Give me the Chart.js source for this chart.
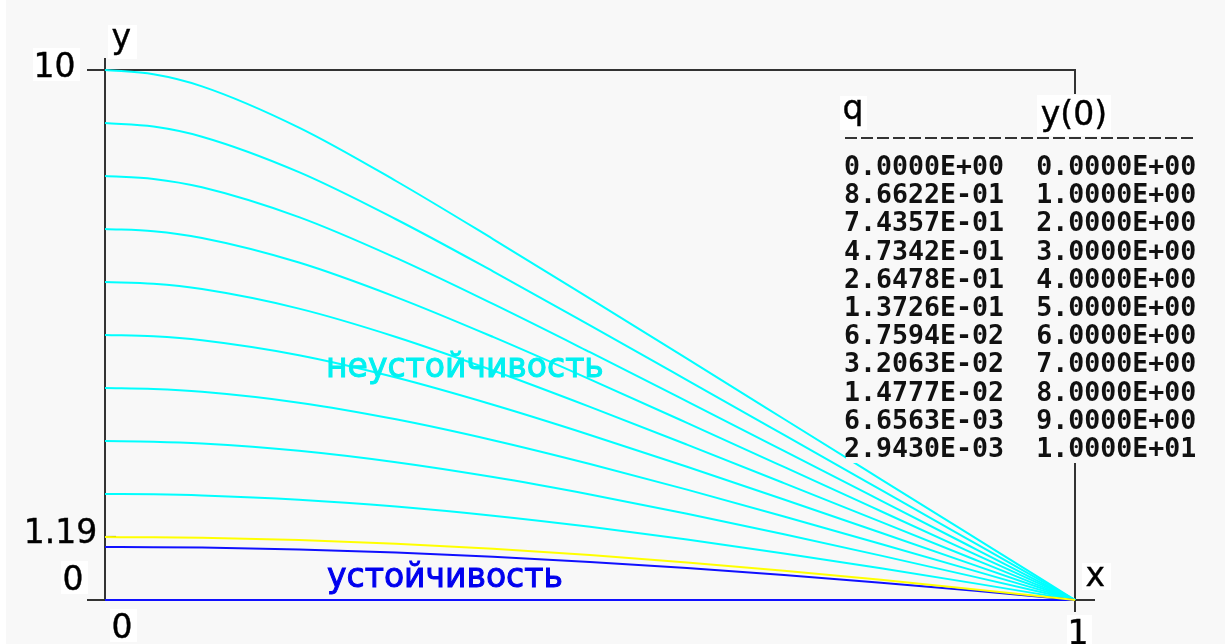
<!DOCTYPE html>
<html>
<head>
<meta charset="utf-8">
<script src="https://cdn.jsdelivr.net/npm/chart.js@4.4.1/dist/chart.umd.min.js"></script>
<style>
  html, body { margin: 0; padding: 0; background: #ffffff; }
  #wrap { width: 1225px; height: 644px; }
</style>
</head>
<body>
<div id="wrap"><canvas id="c" width="1225" height="644"></canvas></div>
<script>
// Sample abscissae shared by every curve
const xGrid = [0, 0.05, 0.1, 0.2, 0.3, 0.4, 0.5, 0.6, 0.7, 0.8, 0.9, 1];

// Solution profiles y(x), one per value of y(0)
const yFlat0 = [0, 0, 0, 0, 0, 0, 0, 0, 0, 0, 0, 0];
const yStart1 = [1, 0.99706, 0.98825, 0.95327, 0.89586, 0.81726, 0.71907, 0.60310, 0.47131, 0.32563, 0.16794, 0];
const yCritical = [1.18688, 1.18328, 1.17252, 1.12985, 1.06005, 0.96493, 0.84678, 0.70815, 0.55168, 0.37994, 0.19534, 0];
const yStart2 = [2, 1.99314, 1.97265, 1.89207, 1.76232, 1.58932, 1.37988, 1.14085, 0.87846, 0.59809, 0.30412, 0];
const yStart3 = [3, 2.98814, 2.95283, 2.81556, 2.59953, 2.31981, 1.99173, 1.62872, 1.24134, 0.83739, 0.42236, 0];
const yStart4 = [4, 3.98198, 3.92857, 3.72381, 3.40975, 3.01527, 2.56622, 2.08218, 1.57649, 1.05772, 0.53116, 0];
const yStart5 = [5, 4.97464, 4.89983, 4.61757, 4.19649, 3.68322, 3.11427, 2.51358, 1.89544, 1.26788, 0.63528, 0];
const yStart6 = [6, 5.96610, 5.86664, 5.49799, 4.96368, 4.33065, 3.64455, 2.93160, 2.20541, 1.47282, 0.73715, 0];
const yStart7 = [7, 6.95637, 6.82911, 6.36643, 5.71514, 4.96330, 4.16341, 3.34178, 2.51057, 1.67518, 0.83798, 0];
const yStart8 = [8, 7.94544, 7.78739, 7.22431, 6.45420, 5.58557, 4.67501, 3.74747, 2.81321, 1.87630, 0.93836, 0];
const yStart9 = [9, 8.93332, 8.74163, 8.07299, 7.18369, 6.20067, 5.18211, 4.15063, 3.11454, 2.07682, 1.03851, 0];
const yStart10 = [10, 9.92004, 9.69201, 8.91376, 7.90578, 6.81086, 5.68644, 4.55238, 3.41521, 2.27706, 1.13858, 0];

// Table: parameter q for each starting value y(0)
const qValues = [0, 0.86622, 0.74357, 0.47342, 0.26478, 0.13726, 0.067594, 0.032063, 0.014777, 0.0066563, 0.0029430];
const y0Values = [0, 1, 2, 3, 4, 5, 6, 7, 8, 9, 10];

// Axis ticks and labels
const xTicks = [0, 1];
const yTicks = [0, 1.19, 10];
const xTitle = 'x';
const yTitle = 'y';
const unstableLabel = 'неустойчивость';
const stableLabel = 'устойчивость';

const CYAN = '#00ffff', YELLOW = '#ffff00', BLUE = '#1010ff';
const BG = '#f8f8f8', AXIS = '#333333';
const LABEL_FONT = '33px "DejaVu Sans"';
const MONO_FONT = 'bold 26.6px "DejaVu Sans Mono"';

const toPts = vals => xGrid.map((x, i) => ({ x: x, y: vals[i] }));
const line = (vals, color) => ({
  data: toPts(vals), borderColor: color, borderWidth: 2,
  pointRadius: 0, fill: false, cubicInterpolationMode: 'monotone', clip: 6
});

const datasets = [
  line(yCritical, YELLOW),
  line(yStart1, BLUE),
  line(yFlat0, BLUE),
  line(yStart2, CYAN), line(yStart3, CYAN), line(yStart4, CYAN), line(yStart5, CYAN),
  line(yStart6, CYAN), line(yStart7, CYAN), line(yStart8, CYAN), line(yStart9, CYAN),
  line(yStart10, CYAN)
];

function fmtE(v) {
  const [m, e] = v.toExponential(4).split('e');
  const n = parseInt(e, 10);
  return m + 'E' + (n < 0 ? '-' : '+') + String(Math.abs(n)).padStart(2, '0');
}

// draw text so that its ink box is centred on (cx, cy)
function inkCentered(ctx, text, cx, cy, patch) {
  const m = ctx.measureText(text);
  const w = m.actualBoundingBoxLeft + m.actualBoundingBoxRight;
  const h = m.actualBoundingBoxAscent + m.actualBoundingBoxDescent;
  const bx = cx - w / 2 + m.actualBoundingBoxLeft;
  const by = cy - h / 2 + m.actualBoundingBoxAscent;
  if (patch) {
    ctx.save();
    ctx.fillStyle = '#ffffff';
    ctx.fillRect(Math.round(cx - w / 2 - 4), Math.round(cy - h / 2 - 4), Math.round(w + 10), Math.round(h + 8));
    ctx.restore();
  }
  ctx.fillText(text, bx, by);
  ctx.strokeText(text, bx, by);
}

// offsets of tick labels from their tick positions
const yLabelPos = { '10': [-50, -6], '1.19': [-44, -6], '0': [-32, -23] };
const xLabelPos = { '0': [17, 25], '1': [3, 31] };

const framePlugin = {
  id: 'frame',
  beforeDraw(chart) {
    const ctx = chart.ctx;
    ctx.save();
    ctx.fillStyle = '#ffffff';
    ctx.fillRect(0, 0, chart.width, chart.height);
    ctx.fillStyle = BG;
    ctx.fillRect(6, 0, chart.width - 6, chart.height);
    ctx.restore();
  },
  beforeDatasetsDraw(chart) {
    const { ctx, scales: { x, y } } = chart;
    const x0 = x.getPixelForValue(xTicks[0]), x1 = x.getPixelForValue(xTicks[xTicks.length - 1]);
    const yMin = yTicks[0], yMax = yTicks[yTicks.length - 1];
    const yb = y.getPixelForValue(yMin), yt = y.getPixelForValue(yMax);
    ctx.save();
    ctx.strokeStyle = AXIS;
    ctx.lineWidth = 2;
    const seg = (ax, ay, bx, by) => { ctx.beginPath(); ctx.moveTo(ax, ay); ctx.lineTo(bx, by); ctx.stroke(); };
    seg(x0, yt - 12, x0, yb + 1);          // y axis
    seg(x0 - 17, yb, x1 + 20, yb);         // x axis
    seg(x0, yt, x1, yt);                   // upper frame
    seg(x1, yt - 1, x1, yb + 12);          // right frame
    yTicks.forEach(v => {
      const py = y.getPixelForValue(v);
      if (v === yMin || v === yMax) seg(x0 - 18, py, x0, py);
      else seg(x0, py, x0 + 11, py);
    });
    ctx.restore();
  },
  afterDraw(chart) {
    const { ctx, scales: { x, y } } = chart;
    const x0 = x.getPixelForValue(0), yt = y.getPixelForValue(10);
    ctx.save();
    ctx.fillStyle = '#000000';
    ctx.strokeStyle = '#000000';
    ctx.lineWidth = 0.4;
    ctx.font = LABEL_FONT;

    // tick labels
    yTicks.forEach(v => {
      const key = String(v), off = yLabelPos[key];
      inkCentered(ctx, key, x0 + off[0], y.getPixelForValue(v) + off[1], key !== '1.19');
    });
    xTicks.forEach(v => {
      const key = String(v), off = xLabelPos[key];
      inkCentered(ctx, key, x.getPixelForValue(v) + off[0], y.getPixelForValue(0) + off[1], true);
    });
    // axis titles
    inkCentered(ctx, yTitle, x0 + 16, yt - 28, true);
    inkCentered(ctx, xTitle, x.getPixelForValue(1) + 20, y.getPixelForValue(0) - 24, true);

    // region labels
    ctx.font = '33px "DejaVu Sans"';
    ctx.lineWidth = 1;
    ctx.textBaseline = 'alphabetic';
    ctx.fillStyle = '#00f0f0'; ctx.strokeStyle = '#00f0f0';
    ctx.fillText(unstableLabel, 326, 377);
    ctx.strokeText(unstableLabel, 326, 377);
    ctx.fillStyle = '#0000ee'; ctx.strokeStyle = '#0000ee';
    ctx.fillText(stableLabel, 327, 587);
    ctx.strokeText(stableLabel, 327, 587);

    // table of q against y(0)
    const tx = 845, rowBase = 175, rowStep = 28.2;
    ctx.fillStyle = BG;
    ctx.fillRect(846, 94, 362, 369);
    ctx.fillStyle = '#000000'; ctx.strokeStyle = '#000000';
    ctx.lineWidth = 0.4;
    ctx.font = LABEL_FONT;
    inkCentered(ctx, 'q', 852, 113, true);
    inkCentered(ctx, 'y(0)', 1073, 115, true);

    // dashed rule under the header
    ctx.save();
    ctx.strokeStyle = '#333333';
    ctx.lineWidth = 2;
    ctx.setLineDash([12, 4]);
    ctx.beginPath(); ctx.moveTo(tx, 138); ctx.lineTo(1197, 138); ctx.stroke();
    ctx.restore();

    ctx.font = MONO_FONT;
    ctx.textBaseline = 'alphabetic';
    ctx.fillStyle = '#111111';
    y0Values.forEach((v, i) => {
      const row = fmtE(qValues[i]) + '  ' + fmtE(v);
      ctx.fillText(row, tx - 1, rowBase + i * rowStep);
    });
    ctx.restore();
  }
};

new Chart(document.getElementById('c'), {
  type: 'line',
  data: { datasets: datasets },
  options: {
    responsive: false,
    animation: false,
    devicePixelRatio: 1,
    layout: { padding: { left: 105, right: 150, top: 70, bottom: 44 } },
    plugins: { legend: { display: false }, tooltip: { enabled: false } },
    scales: {
      x: { type: 'linear', min: 0, max: 1, display: false },
      y: { type: 'linear', min: 0, max: 10, display: false }
    }
  },
  plugins: [framePlugin]
});
</script>
</body>
</html>
